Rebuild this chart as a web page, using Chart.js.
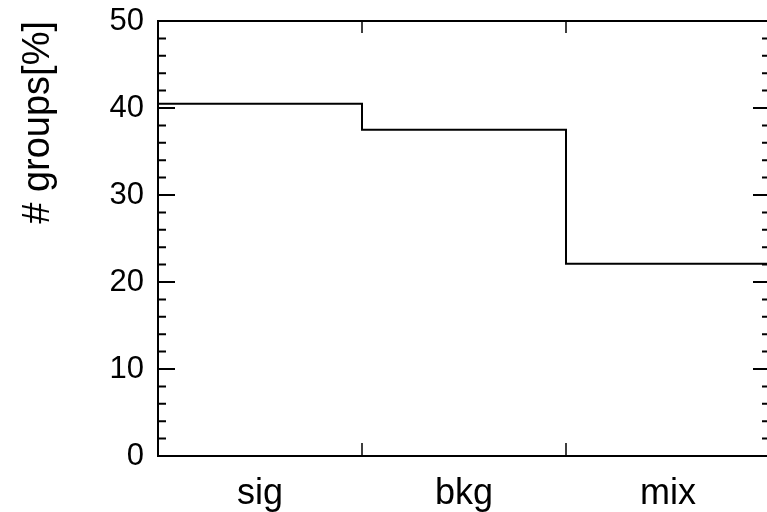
<!DOCTYPE html>
<html>
<head>
<meta charset="utf-8">
<script src="https://cdn.jsdelivr.net/npm/chart.js@4.4.0/dist/chart.umd.min.js"></script>
<style>
  html, body { margin: 0; padding: 0; background: #fff; overflow: hidden; }
  #wrap { width: 775px; height: 512px; position: relative; }
</style>
</head>
<body>
<div id="wrap"><canvas id="histo"></canvas></div>
<script>
// histogram bins and their heights (percent of groups)
const categories = ['sig', 'bkg', 'mix'];
const percent = [40.5, 37.5, 22.1];
const yTicks = [0, 10, 20, 30, 40, 50];

// step outline: one point per bin start, plus closing point at last edge
const points = categories.map((c, i) => ({ x: i, y: percent[i] }));
points.push({ x: categories.length, y: percent[percent.length - 1] });

const FONT = "'Liberation Sans', Arial, Helvetica, sans-serif";

// frame + inward ticks, gnuplot style
const framePlugin = {
    id: 'frame',
    afterDatasetsDraw(chart) {
        const { ctx, chartArea: a, scales: { x, y } } = chart;
        ctx.save();
        ctx.strokeStyle = '#000';
        ctx.lineCap = 'butt';

        // minor y ticks every 2
        ctx.lineWidth = 2;
        for (let v = 0; v <= 50; v += 2) {
            const py = y.getPixelForValue(v);
            const len = v % 10 === 0 ? 17 : 8;
            ctx.beginPath();
            ctx.moveTo(a.left, py); ctx.lineTo(a.left + len, py);
            ctx.moveTo(a.right, py); ctx.lineTo(a.right - len, py);
            ctx.stroke();
        }

        // x ticks at bin edges
        ctx.lineWidth = 1.5;
        for (let i = 1; i < categories.length; i++) {
            const px = x.getPixelForValue(i);
            ctx.beginPath();
            ctx.moveTo(px, a.bottom); ctx.lineTo(px, a.bottom - 13);
            ctx.moveTo(px, a.top); ctx.lineTo(px, a.top + 12);
            ctx.stroke();
        }

        ctx.lineWidth = 2;
        ctx.strokeRect(a.left, a.top, a.right - a.left, a.bottom - a.top);
        ctx.restore();
    }
};

new Chart(document.getElementById('histo'), {
    type: 'line',
    data: {
        datasets: [{
            data: points,
            stepped: true,
            borderColor: '#000',
            borderWidth: 2,
            pointRadius: 0,
            fill: false
        }]
    },
    options: {
        responsive: true,
        maintainAspectRatio: false,
        animation: false,
        layout: { padding: { top: 21, right: 5, left: 0, bottom: 0 } },
        plugins: { legend: { display: false }, tooltip: { enabled: false } },
        scales: {
            x: {
                type: 'linear',
                min: 0,
                max: categories.length,
                grid: { display: false, drawTicks: false },
                border: { display: false },
                afterBuildTicks: s => { s.ticks = categories.map((c, i) => ({ value: i + 0.5 })); },
                afterFit: s => { s.height = 56; s.paddingLeft = 0; s.paddingRight = 0; },
                ticks: {
                    padding: 16,
                    color: '#000',
                    font: { family: FONT, size: 36 },
                    callback: v => categories[Math.floor(v)]
                }
            },
            y: {
                min: 0,
                max: 50,
                grid: { display: false, drawTicks: false },
                border: { display: false },
                afterBuildTicks: s => { s.ticks = yTicks.map(v => ({ value: v })); },
                afterFit: s => { s.width = 158; s.paddingTop = 0; s.paddingBottom = 0; },
                ticks: {
                    padding: 14,
                    color: '#000',
                    font: { family: FONT, size: 31 }
                },
                title: {
                    display: true,
                    text: '# groups[%]',
                    align: 'end',
                    color: '#000',
                    padding: { top: 16, bottom: 0 },
                    font: { family: FONT, size: 38 }
                }
            }
        }
    },
    plugins: [framePlugin]
});
</script>
</body>
</html>
